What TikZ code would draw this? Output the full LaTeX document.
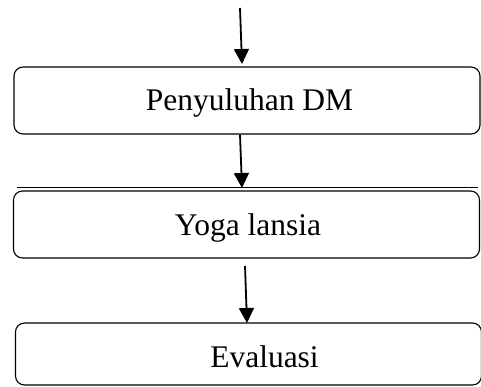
\documentclass[tikz,border=0pt]{standalone}
\usepackage{fontspec}
\setmainfont{Liberation Serif}
\usetikzlibrary{arrows.meta}
\usetikzlibrary{positioning}

\begin{document}
\begin{tikzpicture}[x=1pt, y=-1pt,
  kotak/.style={draw, line width=1.1pt, rounded corners=9pt, minimum width=466pt,
    inner sep=0pt, text depth=0pt, font=\fontsize{31.5}{36}\selectfont},
  panah/.style={line width=1.8pt, -{Triangle[width=15pt,length=15pt]}}]
\useasboundingbox (0,0) rectangle (481,386);
\node[kotak, minimum height=67pt, text height=19pt] (penyuluhan) at (247,100.5) {\hspace*{5pt}Penyuluhan DM};
\node[kotak, minimum height=67pt, text height=21pt] (yoga) at (246.5,224.5) {\hspace*{3pt}Yoga lansia};
\node[kotak, minimum height=62pt, text height=26pt] (evaluasi) at (248.5,354) {\hspace*{32pt}Evaluasi};
% panah
\coordinate (awal) at (240,8);
\coordinate (ujung1) at (242,64);
\coordinate (ujung2) at (242,188);
\coordinate (mulai3) at (245,266);
\coordinate (ujung3) at (247,323);
\draw[panah] (awal) -- (ujung1);
\draw[panah] (penyuluhan.south -| awal) -- (ujung2);
\draw[panah] (mulai3) -- (ujung3);
% garis di atas kotak yoga
\draw[line width=0.8pt] (17,187.5) -- (478,187.5);
\end{tikzpicture}
\end{document}
